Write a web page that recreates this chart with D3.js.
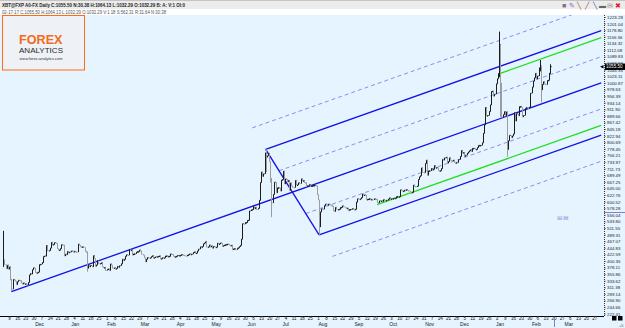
<!DOCTYPE html>
<html>
<head>
<meta charset="utf-8">
<script src="https://cdn.jsdelivr.net/npm/d3@7"></script>
<style>
  body { margin: 0; background: #fff; }
  svg { display: block; font-family: "Liberation Sans", Arial, sans-serif; }
</style>
</head>
<body>
<div id="chart"></div>
<script>
// daily closes XBT, starting 2015-11-04 (open of first bar = firstOpen)
const startDate = "2015-11-04";
const firstOpen = 400;
const closes = [
  // Nov 2015
  403,388,374,386,372,380,336,305,338,336,332,320,330,335,334,326,322,326,323,323,319,328,353,358,356,371,377,
  // Dec
  362,358,361,363,388,389,395,415,417,416,452,434,436,444,463,454,456,462,460,442,437,437,442,455,454,417,423,421,432,427,430,
  // Jan 2016
  434,433,430,433,431,430,457,453,448,447,448,446,432,430,375,386,380,385,380,418,408,382,387,402,391,392,394,380,378,378,368,
  // Feb
  372,373,368,390,386,376,377,372,375,382,378,384,391,406,401,406,416,421,420,439,437,437,420,424,424,430,432,432,437,
  // Mar
  434,423,420,411,397,406,412,411,411,415,418,409,412,414,415,416,417,408,408,411,411,417,417,415,416,416,424,422,416,413,415,
  // Apr
  416,419,419,419,422,421,420,418,417,420,421,424,423,423,429,431,426,427,434,440,448,445,449,458,461,465,447,448,454,447,
  // May
  451,443,449,445,447,460,458,458,461,449,452,454,455,456,457,453,452,453,438,441,442,438,443,445,449,453,474,526,525,530,530,
  // Jun
  537,538,569,573,574,585,576,581,574,578,605,665,700,685,694,765,750,755,763,735,666,596,625,666,665,630,647,647,636,673,
  // Jul
  675,703,660,677,667,672,638,663,653,649,648,672,656,657,664,661,677,671,671,665,664,650,654,658,654,654,654,655,655,653,624,
  // Aug
  606,515,566,576,575,587,592,591,587,592,589,587,585,570,567,581,574,574,575,581,581,586,583,580,578,578,570,574,574,577,575,
  // Sep
  572,575,599,610,607,610,614,626,622,623,607,608,609,610,607,608,606,610,609,608,597,596,603,603,600,607,605,604,605,609,
  // Oct
  613,609,610,608,612,612,617,618,616,617,640,636,636,639,638,641,638,637,631,630,632,656,652,651,653,675,684,688,714,699,698,
  // Nov
  729,740,689,704,704,712,706,710,722,715,715,705,702,705,712,743,740,748,750,730,736,748,740,739,740,733,729,733,732,742,
  // Dec
  753,773,764,766,752,757,764,768,772,775,769,780,780,776,777,783,790,790,790,799,831,860,918,890,891,905,927,972,973,956,963,
  // Jan 2017
  998,1015,1033,1130,1000,886,894,904,890,903,776,806,824,816,822,829,901,872,897,890,921,921,918,886,891,915,918,917,914,919,966,
  // Feb
  987,1007,1018,1033,1014,1024,1052,1054,977,996,1005,997,995,1009,1010,1034,1055.5
];
// days with long wicks: [date, high, low]
const wicks = [
  ["2015-11-04", 502, 380], ["2015-11-11", 340, 298], ["2016-01-15", 432, 364],
  ["2016-06-17", 777, 700], ["2016-06-22", 680, 548], ["2016-08-02", 606, 488],
  ["2017-01-04", 1174, 1020], ["2017-01-05", 1130, 885], ["2017-01-11", 905, 752],
  ["2017-02-08", 1078, 1040], ["2017-02-09", 1060, 935], ["2017-02-17", 1064, 1032]
];

// pitchfork pivots
const pivotDates = ["2015-11-11", "2016-06-17", "2016-08-02"];
const pivotPrices = [297, 777, 488];
const dashedLevels = [1.5, 0.5, -0.5, -1.5];
// extra parallels (green) : start date, start price
const greenDates = ["2017-01-05", "2016-09-21"];
const greenPrices = [1033, 590];

const yTicks = [222.41,244.66,266.90,289.14,311.38,333.62,355.86,378.11,400.35,422.59,444.83,467.07,
  489.31,511.55,533.80,556.04,578.28,600.52,622.76,645.00,667.25,689.49,711.73,733.97,756.21,778.45,
  800.69,822.94,845.18,867.42,889.66,911.90,934.14,956.39,978.63,1000.87,1023.11,1045.35,1067.59,
  1089.83,1112.08,1134.32,1156.56,1178.80,1201.04,1223.28];
const lastPrice = 1055.50;
const cursorDate = "2017-02-20";
const cursorPrice = 565;

const header1 = "XBT@FXP A0-FX Daily C:1055.50 N:30.38 H:1064.13 L:1032.29 O:1032.29 B: A: V:1 OI:0";
const header2 = "02-17-17 C:1055.50 H:1064.13 L:1032.29 O:1032.29 V:1 18 S:562.31 R:31.64 N:30.38";

const parseDay = d3.utcParse("%Y-%m-%d");

const svg = d3.select("#chart").append("svg")
    .attr("width", 625)
    .attr("height", 328);

const plotR = 604, plotT = 15, plotB = 316;

const x = d3.scaleUtc()
    .domain([parseDay("2015-11-04"), parseDay("2017-04-02")])
    .range([3.3, 601.2]);
const y = d3.scaleLinear()
    .domain([222.41, 1223.28])
    .range([313.7, 17]);

// backgrounds
svg.append("rect").attr("x", 0).attr("y", 0).attr("width", 625).attr("height", 328).attr("fill", "#e5f4fe");
svg.append("rect").attr("x", 0).attr("y", 0).attr("width", 625).attr("height", 15).attr("fill", "#ffffff");
svg.append("rect").attr("x", 0).attr("y", 0).attr("width", 625).attr("height", 9).attr("fill", "#ececec");
svg.append("line").attr("x1", 0).attr("x2", 625).attr("y1", 0.5).attr("y2", 0.5).attr("stroke", "#c4c4c4");

svg.append("text").attr("x", 2).attr("y", 7).text(header1)
    .style("font-size", "5.5px").style("font-weight", "bold").attr("fill", "#222")
    .attr("textLength", 183).attr("lengthAdjust", "spacingAndGlyphs");
svg.append("text").attr("x", 2).attr("y", 13.6).text(header2)
    .style("font-size", "5.2px").attr("fill", "#555")
    .attr("textLength", 164).attr("lengthAdjust", "spacingAndGlyphs");

// toolbar icons
const icons = [["#777", "■"], ["#a050c0", "✎"], ["#8a5a20", "╲"], ["#c03060", "╱"], ["#3050c0", "╲"], ["#666", "▬"], ["#888", "✉"], ["#e02020", "✖"]];
icons.forEach(function (ic, i) {
    svg.append("text").attr("x", 564 + i * 7.7).attr("y", 8).attr("text-anchor", "middle")
        .text(ic[1]).style("font-size", "7px").attr("fill", ic[0]);
});

// logo
svg.append("rect").attr("x", 2.5).attr("y", 15.5).attr("width", 82).attr("height", 54.5)
    .attr("fill", "#eef1f6").attr("stroke", "#ff6a13").attr("stroke-width", 1);
svg.append("text").attr("x", 19).attr("y", 44).text("FOREX")
    .style("font-size", "12.5px").style("font-weight", "bold").attr("fill", "#f26a1b")
    .attr("textLength", 43.5).attr("lengthAdjust", "spacingAndGlyphs");
svg.append("text").attr("x", 19).attr("y", 52.6).text("ANALYTICS")
    .style("font-size", "7.8px").attr("fill", "#2a2a2a")
    .attr("textLength", 44).attr("lengthAdjust", "spacingAndGlyphs");
svg.append("text").attr("x", 19.5).attr("y", 60).text("www.forex-analytics.com")
    .style("font-size", "3.8px").attr("fill", "#333")
    .attr("textLength", 43).attr("lengthAdjust", "spacingAndGlyphs");

// clip for plot
svg.append("clipPath").attr("id", "plotclip")
    .append("rect").attr("x", 0).attr("y", plotT).attr("width", plotR).attr("height", plotB - plotT);
const plot = svg.append("g").attr("clip-path", "url(#plotclip)");

// pitchfork geometry in data space
const P = pivotDates.map(function (d, i) { return { t: +parseDay(d), p: pivotPrices[i] }; });
const mid = { t: (P[1].t + P[2].t) / 2, p: (P[1].p + P[2].p) / 2 };
const slope = (mid.p - P[0].p) / (mid.t - P[0].t);
const tEnd = +x.domain()[1];

function ray(t0, p0) {
    return [[t0, p0], [tEnd, p0 + slope * (tEnd - t0)]];
}
function levelStart(k) {
    const u = 0.5 - k / 2;
    return [P[1].t + u * (P[2].t - P[1].t), P[1].p + u * (P[2].p - P[1].p)];
}
const line = d3.line().x(function (d) { return x(new Date(d[0])); }).y(function (d) { return y(d[1]); });

dashedLevels.forEach(function (k) {
    const s = levelStart(k);
    plot.append("path").attr("d", line(ray(s[0], s[1])))
        .attr("fill", "none").attr("stroke", "#8080f4").attr("stroke-width", 0.9)
        .attr("stroke-dasharray", "4,3");
});

greenDates.forEach(function (d, i) {
    plot.append("path").attr("d", line(ray(+parseDay(d), greenPrices[i])))
        .attr("fill", "none").attr("stroke", "#1ee01e").attr("stroke-width", 1.3);
});

const solidLines = [ray(P[0].t, P[0].p), ray(P[1].t, P[1].p), ray(P[2].t, P[2].p), [[P[1].t, P[1].p], [P[2].t, P[2].p]]];
solidLines.forEach(function (l) {
    plot.append("path").attr("d", line(l))
        .attr("fill", "none").attr("stroke", "#1010e8").attr("stroke-width", 1.3);
});

// price bars
const wickMap = new Map(wicks.map(function (w) { return [+parseDay(w[0]), [w[1], w[2]]]; }));
const bars = closes.map(function (c, i) {
    const date = d3.utcDay.offset(parseDay(startDate), i);
    const open = i === 0 ? firstOpen : closes[i - 1];
    let hi = Math.max(open, c), lo = Math.min(open, c);
    const w = wickMap.get(+date);
    if (w) { hi = Math.max(hi, w[0]); lo = Math.min(lo, w[1]); }
    return { date: date, open: open, close: c, hi: hi, lo: lo };
});

plot.append("g")
    .selectAll("path")
    .data(bars)
    .join("path")
    .attr("d", function (d) {
        const px = Math.round(x(d.date)) + 0.5;
        const y1 = y(d.hi), y2 = Math.max(y(d.lo), y1 + 1);
        return "M" + px + "," + y1 + "V" + y2 + "M" + px + "," + y(d.close) + "H" + (px + 1.2);
    })
    .attr("fill", "none")
    .attr("stroke", function (d) { return d.close >= d.open ? "#1c1c1c" : "#9c9c9c"; })
    .attr("stroke-width", 1);

// x axis
svg.append("line").attr("x1", 0).attr("x2", plotR).attr("y1", plotB + 0.5).attr("y2", plotB + 0.5)
    .attr("stroke", "#000");
const xAxis = svg.append("g").attr("transform", "translate(0," + plotB + ")")
    .call(d3.axisBottom(x).ticks(d3.utcMonday.every(1)).tickFormat(d3.utcFormat("%-d")).tickSize(1.5));
xAxis.select(".domain").remove();
xAxis.selectAll("text").attr("y", 4.3).attr("dy", 0).style("font-size", "4.5px").attr("fill", "#222");
xAxis.selectAll("line").attr("stroke", "#333");

const monthAxis = svg.append("g").attr("transform", "translate(0," + plotB + ")")
    .call(d3.axisBottom(x).tickValues(d3.utcMonth.range(parseDay("2015-12-01"), parseDay("2017-04-01")))
        .tickFormat(d3.utcFormat("%b")).tickSize(0));
monthAxis.select(".domain").remove();
monthAxis.selectAll("text").attr("y", 9.8).attr("dy", 0).attr("text-anchor", "start")
    .style("font-size", "5px").attr("fill", "#222");

// y axis (right)
svg.append("line").attr("x1", plotR + 0.5).attr("x2", plotR + 0.5).attr("y1", plotT).attr("y2", plotB)
    .attr("stroke", "#333").attr("stroke-dasharray", "1,1");
const yAxis = svg.append("g").attr("transform", "translate(" + (plotR + 0.5) + ",0)")
    .call(d3.axisRight(y).tickValues(yTicks).tickFormat(d3.format(".2f")).tickSize(1).tickPadding(1.5));
yAxis.select(".domain").remove();
yAxis.selectAll("text").style("font-size", "4.4px").attr("fill", "#222");
yAxis.selectAll("line").attr("stroke", "#333");

// last price marker
svg.append("rect").attr("x", 605).attr("y", y(lastPrice) - 3.2).attr("width", 20).attr("height", 6.4).attr("fill", "#000");
svg.append("text").attr("x", 606).attr("y", y(lastPrice) + 1.6).text(d3.format(".2f")(lastPrice))
    .style("font-size", "4.6px").attr("fill", "#fff");
svg.append("path").attr("d", "M600," + y(lastPrice) + "l3.5,-1.8v3.6z").attr("fill", "#000");

// cursor markers
svg.append("line").attr("x1", plotR).attr("x2", 625).attr("y1", Math.round(y(cursorPrice)) + 0.5).attr("y2", Math.round(y(cursorPrice)) + 0.5)
    .attr("stroke", "#8a7ad0").attr("stroke-width", 1);
svg.append("line").attr("x1", Math.round(x(parseDay(cursorDate))) + 0.5).attr("x2", Math.round(x(parseDay(cursorDate))) + 0.5)
    .attr("y1", plotB + 1).attr("y2", 327).attr("stroke", "#8a7ad0").attr("stroke-width", 1);
svg.append("text").attr("x", 557).attr("y", 219.5).text("⊞⊠")
    .style("font-size", "6px").attr("fill", "#9a8ad8").attr("textLength", 11).attr("lengthAdjust", "spacingAndGlyphs");

// bottom-right corner
svg.append("rect").attr("x", 612).attr("y", 316).attr("width", 4.5).attr("height", 4.5).attr("fill", "#000");
svg.append("rect").attr("x", 618).attr("y", 316).attr("width", 4.5).attr("height", 4.5).attr("fill", "#000");
svg.append("text").attr("x", 619).attr("y", 326.5).text("+5").style("font-size", "4px").attr("fill", "#555");
</script>
</body>
</html>
